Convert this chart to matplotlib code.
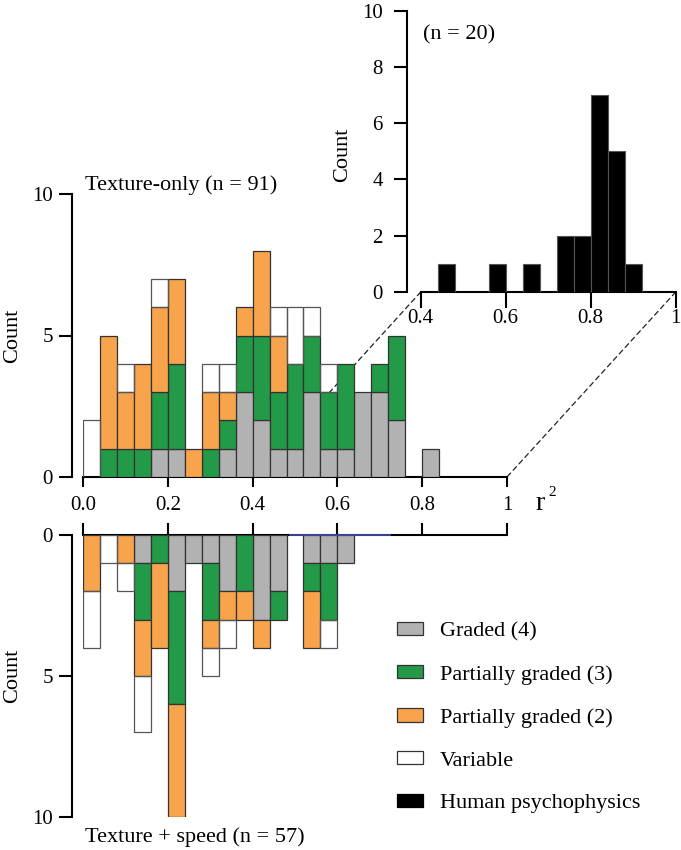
import numpy as np
import matplotlib
matplotlib.use("Agg")
import matplotlib.pyplot as plt
from matplotlib.patches import Patch, ConnectionPatch

plt.rcParams['font.family'] = ['Liberation Serif', 'DejaVu Serif']

# ---------------- data ----------------
bin_width = 0.04
categories = ["Graded (4)", "Partially graded (3)", "Partially graded (2)", "Variable"]
colors = ["#b2b2b2", "#229a48", "#f8a44c", "none"]

# Texture-only (n = 91), bins starting at 0.00, 0.04, ... 0.80
top_graded   = [0, 0, 0, 0, 1, 1, 0, 0, 1, 3, 2, 1, 1, 3, 1, 1, 3, 3, 2, 0, 1]
top_partial3 = [0, 1, 1, 1, 2, 3, 0, 1, 1, 2, 3, 2, 3, 2, 2, 3, 0, 1, 3, 0, 0]
top_partial2 = [0, 4, 2, 3, 3, 3, 1, 2, 1, 1, 3, 2, 0, 0, 0, 0, 0, 0, 0, 0, 0]
top_variable = [2, 0, 1, 0, 1, 0, 0, 1, 1, 0, 0, 1, 2, 1, 1, 0, 0, 0, 0, 0, 0]

# Texture + speed (n = 57), bins starting at 0.00 ... 0.60
bot_graded   = [0, 0, 0, 1, 0, 2, 1, 1, 2, 0, 3, 2, 0, 1, 1, 1]
bot_partial3 = [0, 0, 0, 2, 1, 4, 0, 2, 0, 2, 0, 1, 0, 1, 2, 0]
bot_partial2 = [2, 0, 1, 2, 3, 4, 0, 1, 1, 1, 1, 0, 0, 2, 0, 0]
bot_variable = [2, 1, 1, 2, 0, 0, 0, 1, 1, 0, 0, 0, 0, 0, 1, 0]

# Human psychophysics (n = 20), bins starting at 0.40 ... 0.96
human_start = 0.40
human_counts = [0, 1, 0, 0, 1, 0, 1, 0, 2, 2, 7, 5, 1, 0, 0]

main_xticks = [0.0, 0.2, 0.4, 0.6, 0.8, 1.0]
main_xticklabels = ["0.0", "0.2", "0.4", "0.6", "0.8", "1"]
main_yticks = [0, 5, 10]
inset_xticks = [0.4, 0.6, 0.8, 1.0]
inset_xticklabels = ["0.4", "0.6", "0.8", "1"]
inset_yticks = [0, 2, 4, 6, 8, 10]

# ---------------- figure ----------------
W, H = 681, 850
fig = plt.figure(figsize=(W / 100, H / 100), dpi=100)


def px_axes(left, right, top, bottom):
    return fig.add_axes([left / W, 1 - bottom / H, (right - left) / W, (bottom - top) / H])


EDGE = "#333333"
LW_SP = 1.5
TICK_FS = 15
LABEL_FS = 16


def stacked(ax, series):
    n = len(series[0])
    lefts = np.arange(n) * bin_width
    cum = np.zeros(n)
    for vals, col in zip(series, colors):
        v = np.asarray(vals, dtype=float)
        m = v > 0
        ax.bar(lefts[m], v[m], width=bin_width, bottom=cum[m], align='edge',
               facecolor=col, edgecolor=EDGE if col != "none" else "#555555",
               linewidth=0.9, zorder=3)
        cum += v


# Top: texture-only
ax_top = px_axes(83, 507, 194, 477)
stacked(ax_top, [top_graded, top_partial3, top_partial2, top_variable])
ax_top.set_xlim(0, 1)
ax_top.set_ylim(0, 10)
ax_top.patch.set_visible(False)
for s in ["top", "right"]:
    ax_top.spines[s].set_visible(False)
ax_top.spines["left"].set_position(("outward", 7.9))
ax_top.spines["left"].set_bounds(0, 10)
ax_top.spines["bottom"].set_bounds(0, 1)
for s in ["left", "bottom"]:
    ax_top.spines[s].set_linewidth(LW_SP)
ax_top.set_xticks(main_xticks)
ax_top.set_xticklabels(main_xticklabels)
ax_top.set_yticks(main_yticks)
ax_top.tick_params(axis='x', direction='out', length=7.2, width=LW_SP, pad=6.5, labelsize=TICK_FS)
ax_top.tick_params(axis='y', direction='out', length=9.4, width=LW_SP, pad=4.3, labelsize=TICK_FS)

# Bottom: texture + speed (inverted)
ax_bot = px_axes(83, 507, 535, 817)
stacked(ax_bot, [bot_graded, bot_partial3, bot_partial2, bot_variable])
ax_bot.set_xlim(0, 1)
ax_bot.set_ylim(10, 0)
ax_bot.patch.set_visible(False)
for s in ["bottom", "right"]:
    ax_bot.spines[s].set_visible(False)
ax_bot.xaxis.tick_top()
ax_bot.spines["left"].set_position(("outward", 7.9))
ax_bot.spines["left"].set_bounds(0, 10)
ax_bot.spines["top"].set_bounds(0, 1)
for s in ["left", "top"]:
    ax_bot.spines[s].set_linewidth(LW_SP)
ax_bot.set_xticks(main_xticks)
ax_bot.set_xticklabels([])
ax_bot.set_yticks(main_yticks)
ax_bot.tick_params(axis='x', direction='out', length=8.4, width=LW_SP, labeltop=False)
ax_bot.tick_params(axis='y', direction='out', length=9.4, width=LW_SP, pad=4.3, labelsize=TICK_FS)
ax_bot.plot([0.488, 0.724], [0, 0], color="#3d4aa6", lw=1.3, zorder=5, clip_on=False)

# Inset: human psychophysics
ax_in = px_axes(420.7, 675.7, 10.7, 292)
hl = human_start + np.arange(len(human_counts)) * bin_width
hc = np.asarray(human_counts, dtype=float)
m = hc > 0
ax_in.bar(hl[m], hc[m], width=bin_width, align='edge', facecolor='black',
          edgecolor='#555555', linewidth=0.8, zorder=3)
ax_in.set_xlim(0.4, 1.0)
ax_in.set_ylim(0, 10)
ax_in.patch.set_visible(False)
for s in ["top", "right"]:
    ax_in.spines[s].set_visible(False)
ax_in.spines["left"].set_position(("outward", 9.8))
ax_in.spines["left"].set_bounds(0, 10)
ax_in.spines["bottom"].set_bounds(0.4, 1.0)
for s in ["left", "bottom"]:
    ax_in.spines[s].set_linewidth(LW_SP)
ax_in.set_xticks(inset_xticks)
ax_in.set_xticklabels(inset_xticklabels)
ax_in.set_yticks(inset_yticks)
ax_in.tick_params(axis='x', direction='out', length=11.5, width=LW_SP, pad=1, labelsize=TICK_FS)
ax_in.tick_params(axis='y', direction='out', length=9.4, width=LW_SP, pad=8, labelsize=TICK_FS)

# dashed zoom lines (behind the bars of the main histogram)
for xv in (0.4, 1.0):
    con = ConnectionPatch(xyA=(xv, 0), coordsA=ax_in.transData,
                          xyB=(xv, 0), coordsB=ax_top.transData,
                          linestyle=(0, (4, 3)), color="#222222", lw=0.9, zorder=1)
    con.set_clip_on(False)
    ax_top.add_artist(con)

# texts
fig.text(85 / W, 1 - 185 / H, "Texture-only (n = 91)", fontsize=LABEL_FS, va='center', ha='left')
fig.text(85 / W, 1 - 837 / H, "Texture + speed (n = 57)", fontsize=LABEL_FS, va='center', ha='left')
fig.text(423 / W, 1 - 35 / H, "(n = 20)", fontsize=LABEL_FS, va='center', ha='left')
fig.text(13 / W, 1 - 336 / H, "Count", fontsize=LABEL_FS, rotation=90, va='center', ha='center')
fig.text(13 / W, 1 - 676 / H, "Count", fontsize=LABEL_FS, rotation=90, va='center', ha='center')
fig.text(343 / W, 1 - 155 / H, "Count", fontsize=LABEL_FS, rotation=90, va='center', ha='center')
fig.text(535 / W, 1 - 510 / H, "r", fontsize=20, va='baseline', ha='left')
fig.text(548 / W, 1 - 496 / H, "2", fontsize=11, va='baseline', ha='left')

# legend
handles = [Patch(facecolor=c if c != "none" else "white", edgecolor=EDGE, linewidth=0.9)
           for c in colors]
handles.append(Patch(facecolor="black", edgecolor="black", linewidth=0.9))
labels = categories + ["Human psychophysics"]
fig.legend(handles, labels, loc='upper left', bbox_to_anchor=(397 / W, 1 - 622 / H),
           frameon=False, fontsize=LABEL_FS, handlelength=1.17, handleheight=0.55,
           handletextpad=0.75, labelspacing=1.05, borderpad=0, borderaxespad=0)

fig.savefig("out.png", dpi=100)
